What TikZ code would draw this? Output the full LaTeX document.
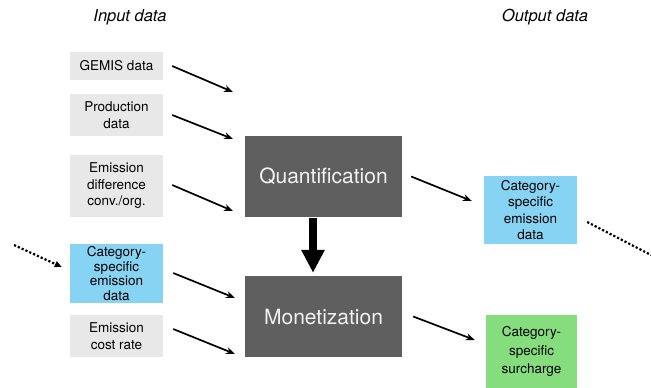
\documentclass[tikz,border=0pt]{standalone}
\usepackage{fontspec}
\setmainfont{TeX Gyre Heros}
\usetikzlibrary{arrows.meta}
\definecolor{ingray}{HTML}{E8E8E8}
\definecolor{catblue}{HTML}{87D3F4}
\definecolor{surgreen}{HTML}{86DD7D}
\definecolor{stepgray}{HTML}{5F5F5F}
\definecolor{steptext}{HTML}{F2F2F2}
\begin{document}
\begin{tikzpicture}[x=1pt, y=-1pt, >={Stealth[length=9pt, width=7pt]},
    every node/.style={rectangle, inner sep=0pt, align=center, font=\fontsize{13.5}{16.5}\selectfont},
    inbox/.style={fill=ingray, minimum width=93pt},
    catbox/.style={fill=catblue, minimum width=93pt},
    stepbox/.style={fill=stepgray, text=steptext, minimum width=157pt, minimum height=81pt, font=\fontsize{21}{25}\selectfont},
    title/.style={font=\fontsize{16.5}{20}\selectfont\itshape},
    flow/.style={->, line width=1.7pt},
    dots/.style={line width=2.2pt, dash pattern=on 2.2pt off 2pt}]
    \useasboundingbox (0,0) rectangle (651,388);

    % Titles
    \node (intitle) [title] at (130,17) {Input data};
    \node (outtitle) [title] at (545,17) {Output data};

    % Input nodes
    \node (gemis) [inbox, minimum height=28pt] at (116.5,66) {GEMIS data};
    \node (prod) [inbox, minimum height=42pt] at (116.5,115) {Production\\data};
    \node (diff) [inbox, minimum height=62pt] at (116.5,186) {Emission\\difference\\conv./org.};
    \node (catin) [catbox, minimum height=59pt, font=\fontsize{13.5}{14.5}\selectfont] at (116.5,273.5) {Category-\\specific\\emission\\data};
    \node (cost) [inbox, minimum height=42pt] at (116.5,336) {Emission\\cost rate};

    % Steps
    \node (quant) [stepbox] at (323.5,176.5) {Quantification};
    \node (monet) [stepbox] at (323.5,316.5) {Monetization};

    % Output nodes
    \node (catout) [catbox, minimum height=68pt] at (530.5,210) {Category-\\specific\\emission\\data};
    \node (surch) [fill=surgreen, minimum width=91pt, minimum height=73pt, font=\fontsize{13.5}{18.5}\selectfont] at (531.5,351.5) {Category-\\specific\\surcharge};

    % Free arrow ends
    \coordinate (q1) at (233,92);
    \coordinate (q2) at (233,139);
    \coordinate (q3) at (233,211);
    \coordinate (m1) at (235,298);
    \coordinate (m2) at (235,354);
    \coordinate (dotin) at (14,245);
    \coordinate (dotout) at (651,255);

    % Arrows into the steps
    \draw[flow] ([xshift=9pt]gemis.east) -- (q1);
    \draw[flow] ([xshift=9pt]prod.east) -- (q2);
    \draw[flow] ([xshift=9pt, yshift=1pt]diff.east) -- (q3);
    \draw[flow] ([xshift=10pt, yshift=0.5pt]catin.east) -- (m1);
    \draw[flow] ([xshift=10pt, yshift=7pt]cost.east) -- (m2);

    % Arrows out of the steps
    \draw[flow] ([xshift=9pt]quant.east) -- ([xshift=-12pt, yshift=9pt]catout.west);
    \draw[flow] ([xshift=11pt]monet.east) -- ([xshift=-11pt, yshift=11.5pt]surch.west);

    % Step to step
    \draw[line width=8pt, -{Triangle[length=23pt, width=22pt]}, shorten <=1pt, shorten >=3pt]
        ([xshift=-10.5pt]quant.south) -- ([xshift=-10.5pt]monet.north);

    % Dotted links
    \draw[dots, -{Triangle[length=7pt, width=6pt]}] (dotin) -- ([xshift=-8pt, yshift=6.5pt]catin.west);
    \draw[dots] ([xshift=10pt, yshift=-12pt]catout.east) -- (dotout);
\end{tikzpicture}
\end{document}
